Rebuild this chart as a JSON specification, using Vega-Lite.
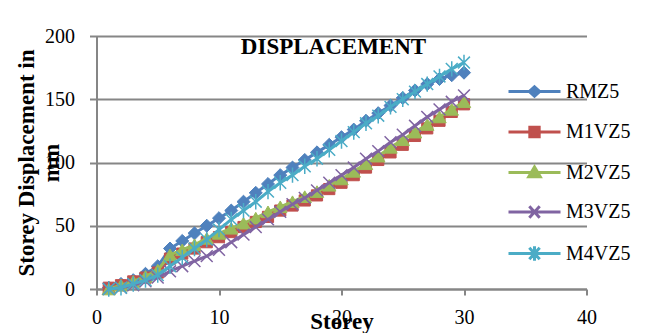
{
  "$schema": "https://vega.github.io/schema/vega-lite/v6.json",
  "width": 490,
  "height": 253,
  "autosize": {"type": "none"},
  "padding": {"left": 96.5, "top": 36, "right": 65.5, "bottom": 44},
  "background": "white",
  "title": {"text": "DISPLACEMENT", "font": "Liberation Serif", "fontSize": 23, "fontWeight": "bold", "color": "black", "anchor": "middle", "frame": "group", "offset": -18, "baseline": "alphabetic", "dx": -8, "dy": 33},
  "data": {"values": [
    {"storey":1,"series":"RMZ5","disp":1},{"storey":2,"series":"RMZ5","disp":4},{"storey":3,"series":"RMZ5","disp":7},{"storey":4,"series":"RMZ5","disp":12},{"storey":5,"series":"RMZ5","disp":18},{"storey":6,"series":"RMZ5","disp":32},{"storey":7,"series":"RMZ5","disp":38},{"storey":8,"series":"RMZ5","disp":44},{"storey":9,"series":"RMZ5","disp":50},{"storey":10,"series":"RMZ5","disp":56},{"storey":11,"series":"RMZ5","disp":62},{"storey":12,"series":"RMZ5","disp":69},{"storey":13,"series":"RMZ5","disp":76},{"storey":14,"series":"RMZ5","disp":83},{"storey":15,"series":"RMZ5","disp":90},{"storey":16,"series":"RMZ5","disp":96},{"storey":17,"series":"RMZ5","disp":102},{"storey":18,"series":"RMZ5","disp":108},{"storey":19,"series":"RMZ5","disp":114},{"storey":20,"series":"RMZ5","disp":120},{"storey":21,"series":"RMZ5","disp":126},{"storey":22,"series":"RMZ5","disp":133},{"storey":23,"series":"RMZ5","disp":139},{"storey":24,"series":"RMZ5","disp":145},{"storey":25,"series":"RMZ5","disp":151},{"storey":26,"series":"RMZ5","disp":157},{"storey":27,"series":"RMZ5","disp":162},{"storey":28,"series":"RMZ5","disp":166},{"storey":29,"series":"RMZ5","disp":169},{"storey":30,"series":"RMZ5","disp":171},
    {"storey":1,"series":"M1VZ5","disp":1},{"storey":2,"series":"M1VZ5","disp":3},{"storey":3,"series":"M1VZ5","disp":6},{"storey":4,"series":"M1VZ5","disp":9},{"storey":5,"series":"M1VZ5","disp":13},{"storey":6,"series":"M1VZ5","disp":24},{"storey":7,"series":"M1VZ5","disp":28},{"storey":8,"series":"M1VZ5","disp":32},{"storey":9,"series":"M1VZ5","disp":37},{"storey":10,"series":"M1VZ5","disp":41},{"storey":11,"series":"M1VZ5","disp":45},{"storey":12,"series":"M1VZ5","disp":49},{"storey":13,"series":"M1VZ5","disp":53},{"storey":14,"series":"M1VZ5","disp":57},{"storey":15,"series":"M1VZ5","disp":62},{"storey":16,"series":"M1VZ5","disp":66},{"storey":17,"series":"M1VZ5","disp":70},{"storey":18,"series":"M1VZ5","disp":74},{"storey":19,"series":"M1VZ5","disp":79},{"storey":20,"series":"M1VZ5","disp":84},{"storey":21,"series":"M1VZ5","disp":90},{"storey":22,"series":"M1VZ5","disp":96},{"storey":23,"series":"M1VZ5","disp":102},{"storey":24,"series":"M1VZ5","disp":108},{"storey":25,"series":"M1VZ5","disp":114},{"storey":26,"series":"M1VZ5","disp":121},{"storey":27,"series":"M1VZ5","disp":127},{"storey":28,"series":"M1VZ5","disp":133},{"storey":29,"series":"M1VZ5","disp":140},{"storey":30,"series":"M1VZ5","disp":146},
    {"storey":1,"series":"M2VZ5","disp":0},{"storey":2,"series":"M2VZ5","disp":3},{"storey":3,"series":"M2VZ5","disp":6},{"storey":4,"series":"M2VZ5","disp":10},{"storey":5,"series":"M2VZ5","disp":15},{"storey":6,"series":"M2VZ5","disp":27},{"storey":7,"series":"M2VZ5","disp":31},{"storey":8,"series":"M2VZ5","disp":35},{"storey":9,"series":"M2VZ5","disp":40},{"storey":10,"series":"M2VZ5","disp":44},{"storey":11,"series":"M2VZ5","disp":48},{"storey":12,"series":"M2VZ5","disp":52},{"storey":13,"series":"M2VZ5","disp":56},{"storey":14,"series":"M2VZ5","disp":61},{"storey":15,"series":"M2VZ5","disp":65},{"storey":16,"series":"M2VZ5","disp":69},{"storey":17,"series":"M2VZ5","disp":73},{"storey":18,"series":"M2VZ5","disp":77},{"storey":19,"series":"M2VZ5","disp":82},{"storey":20,"series":"M2VZ5","disp":87},{"storey":21,"series":"M2VZ5","disp":93},{"storey":22,"series":"M2VZ5","disp":99},{"storey":23,"series":"M2VZ5","disp":105},{"storey":24,"series":"M2VZ5","disp":112},{"storey":25,"series":"M2VZ5","disp":118},{"storey":26,"series":"M2VZ5","disp":124},{"storey":27,"series":"M2VZ5","disp":130},{"storey":28,"series":"M2VZ5","disp":136},{"storey":29,"series":"M2VZ5","disp":142},{"storey":30,"series":"M2VZ5","disp":148},
    {"storey":1,"series":"M3VZ5","disp":0},{"storey":2,"series":"M3VZ5","disp":1},{"storey":3,"series":"M3VZ5","disp":3},{"storey":4,"series":"M3VZ5","disp":6},{"storey":5,"series":"M3VZ5","disp":9},{"storey":6,"series":"M3VZ5","disp":14},{"storey":7,"series":"M3VZ5","disp":18},{"storey":8,"series":"M3VZ5","disp":22},{"storey":9,"series":"M3VZ5","disp":26},{"storey":10,"series":"M3VZ5","disp":31},{"storey":11,"series":"M3VZ5","disp":37},{"storey":12,"series":"M3VZ5","disp":43},{"storey":13,"series":"M3VZ5","disp":49},{"storey":14,"series":"M3VZ5","disp":55},{"storey":15,"series":"M3VZ5","disp":61},{"storey":16,"series":"M3VZ5","disp":67},{"storey":17,"series":"M3VZ5","disp":72},{"storey":18,"series":"M3VZ5","disp":78},{"storey":19,"series":"M3VZ5","disp":84},{"storey":20,"series":"M3VZ5","disp":90},{"storey":21,"series":"M3VZ5","disp":96},{"storey":22,"series":"M3VZ5","disp":103},{"storey":23,"series":"M3VZ5","disp":109},{"storey":24,"series":"M3VZ5","disp":116},{"storey":25,"series":"M3VZ5","disp":122},{"storey":26,"series":"M3VZ5","disp":129},{"storey":27,"series":"M3VZ5","disp":136},{"storey":28,"series":"M3VZ5","disp":142},{"storey":29,"series":"M3VZ5","disp":148},{"storey":30,"series":"M3VZ5","disp":153},
    {"storey":1,"series":"M4VZ5","disp":0},{"storey":2,"series":"M4VZ5","disp":1},{"storey":3,"series":"M4VZ5","disp":4},{"storey":4,"series":"M4VZ5","disp":7},{"storey":5,"series":"M4VZ5","disp":11},{"storey":6,"series":"M4VZ5","disp":18},{"storey":7,"series":"M4VZ5","disp":25},{"storey":8,"series":"M4VZ5","disp":32},{"storey":9,"series":"M4VZ5","disp":39},{"storey":10,"series":"M4VZ5","disp":47},{"storey":11,"series":"M4VZ5","disp":55},{"storey":12,"series":"M4VZ5","disp":62},{"storey":13,"series":"M4VZ5","disp":69},{"storey":14,"series":"M4VZ5","disp":77},{"storey":15,"series":"M4VZ5","disp":84},{"storey":16,"series":"M4VZ5","disp":90},{"storey":17,"series":"M4VZ5","disp":97},{"storey":18,"series":"M4VZ5","disp":103},{"storey":19,"series":"M4VZ5","disp":110},{"storey":20,"series":"M4VZ5","disp":117},{"storey":21,"series":"M4VZ5","disp":124},{"storey":22,"series":"M4VZ5","disp":131},{"storey":23,"series":"M4VZ5","disp":137},{"storey":24,"series":"M4VZ5","disp":144},{"storey":25,"series":"M4VZ5","disp":150},{"storey":26,"series":"M4VZ5","disp":156},{"storey":27,"series":"M4VZ5","disp":162},{"storey":28,"series":"M4VZ5","disp":168},{"storey":29,"series":"M4VZ5","disp":174},{"storey":30,"series":"M4VZ5","disp":179}
  ]},
  "encoding": {
    "x": {"field": "storey", "type": "quantitative", "scale": {"domain": [0, 40], "nice": false}, "axis": {"values": [0, 10, 20, 30, 40], "grid": false, "title": "Storey", "tickSize": 6, "labelBaseline": "alphabetic", "labelPadding": 28, "titleY": 39, "titleBaseline": "alphabetic"}},
    "y": {"field": "disp", "type": "quantitative", "scale": {"domain": [0, 200], "nice": false}, "axis": {"values": [0, 50, 100, 150, 200], "grid": true, "title": ["Storey Displacement in", "mm"], "tickSize": 7, "labelPadding": 15, "titleX": -63.5, "titleY": 126.5, "titleAngle": -90, "titleAlign": "center", "titleBaseline": "alphabetic", "titleLineHeight": 25}},
    "color": {"field": "series", "type": "nominal", "scale": {"domain": ["RMZ5", "M1VZ5", "M2VZ5", "M3VZ5", "M4VZ5"], "range": ["#4F81BD", "#C0504D", "#9BBB59", "#8064A2", "#4BACC6"]},
      "legend": {
        "orient": "none", "legendX": 410.5, "legendY": 28, "padding": 0, "rowPadding": 1.5, "title": null,
        "labelFont": "Liberation Serif", "labelFontSize": 20, "labelColor": "black", "labelOffset": 4, "labelLimit": 0, "symbolSize": 2704, "symbolType": "M-1,0H1",
        "encode": {"symbols": {"update": {
          "shape": {"signal": "datum.value === 'RMZ5' ? 'M-1,0H1M0,-0.18L0.2,0L0,0.18L-0.2,0Z' : datum.value === 'M1VZ5' ? 'M-1,0H1M-0.18,-0.18H0.18V0.18H-0.18Z' : datum.value === 'M2VZ5' ? 'M-1,0H1M0,-0.21L0.22,0.16H-0.22Z' : datum.value === 'M3VZ5' ? 'M-1,0H1M-0.2,-0.22L0.2,0.22M-0.2,0.22L0.2,-0.22' : 'M-1,0H1M-0.2,-0.22L0.2,0.22M-0.2,0.22L0.2,-0.22M0,-0.28V0.28'"},
          "fill": {"signal": "scale('color', datum.value)"},
          "stroke": {"signal": "scale('color', datum.value)"},
          "strokeWidth": {"value": 3},
          "opacity": {"value": 1}
        }}}
      }
    }
  },
  "layer": [
    {"transform": [{"filter": "datum.series === 'RMZ5'"}], "mark": {"type": "line", "strokeWidth": 3}},
    {"transform": [{"filter": "datum.series === 'RMZ5'"}], "mark": {"type": "point", "filled": true, "shape": "diamond", "size": 170, "stroke": "#4F81BD", "strokeWidth": 1, "opacity": 1}},
    {"transform": [{"filter": "datum.series === 'M1VZ5'"}], "mark": {"type": "line", "strokeWidth": 3}},
    {"transform": [{"filter": "datum.series === 'M1VZ5'"}], "mark": {"type": "point", "filled": true, "shape": "square", "size": 125, "stroke": "#C0504D", "strokeWidth": 1, "opacity": 1}},
    {"transform": [{"filter": "datum.series === 'M2VZ5'"}], "mark": {"type": "line", "strokeWidth": 3}},
    {"transform": [{"filter": "datum.series === 'M2VZ5'"}], "mark": {"type": "point", "filled": true, "shape": "triangle-up", "size": 180, "stroke": "#9BBB59", "strokeWidth": 1, "opacity": 1}},
    {"transform": [{"filter": "datum.series === 'M3VZ5'"}], "mark": {"type": "line", "strokeWidth": 3}},
    {"transform": [{"filter": "datum.series === 'M3VZ5'"}], "mark": {"type": "point", "filled": true, "shape": "M-1,-1L1,1M-1,1L1,-1", "size": 140, "stroke": "#8064A2", "strokeWidth": 1.5, "opacity": 1}},
    {"transform": [{"filter": "datum.series === 'M4VZ5'"}], "mark": {"type": "line", "strokeWidth": 3}},
    {"transform": [{"filter": "datum.series === 'M4VZ5'"}], "mark": {"type": "point", "filled": true, "shape": "M-1,-1L1,1M-1,1L1,-1M0,-1.3V1.3", "size": 140, "stroke": "#4BACC6", "strokeWidth": 1.5, "opacity": 1}}
  ],
  "config": {
    "view": {"stroke": null},
    "axis": {"domainColor": "#868686", "domainWidth": 2, "tickColor": "#868686", "tickWidth": 2, "gridColor": "#868686", "gridWidth": 2, "labelFont": "Liberation Serif", "labelFontSize": 20, "labelColor": "black", "titleFont": "Liberation Serif", "titleFontSize": 23, "titleFontWeight": "bold", "titleColor": "black", "labelFlush": false, "labelOverlap": false}
  }
}
